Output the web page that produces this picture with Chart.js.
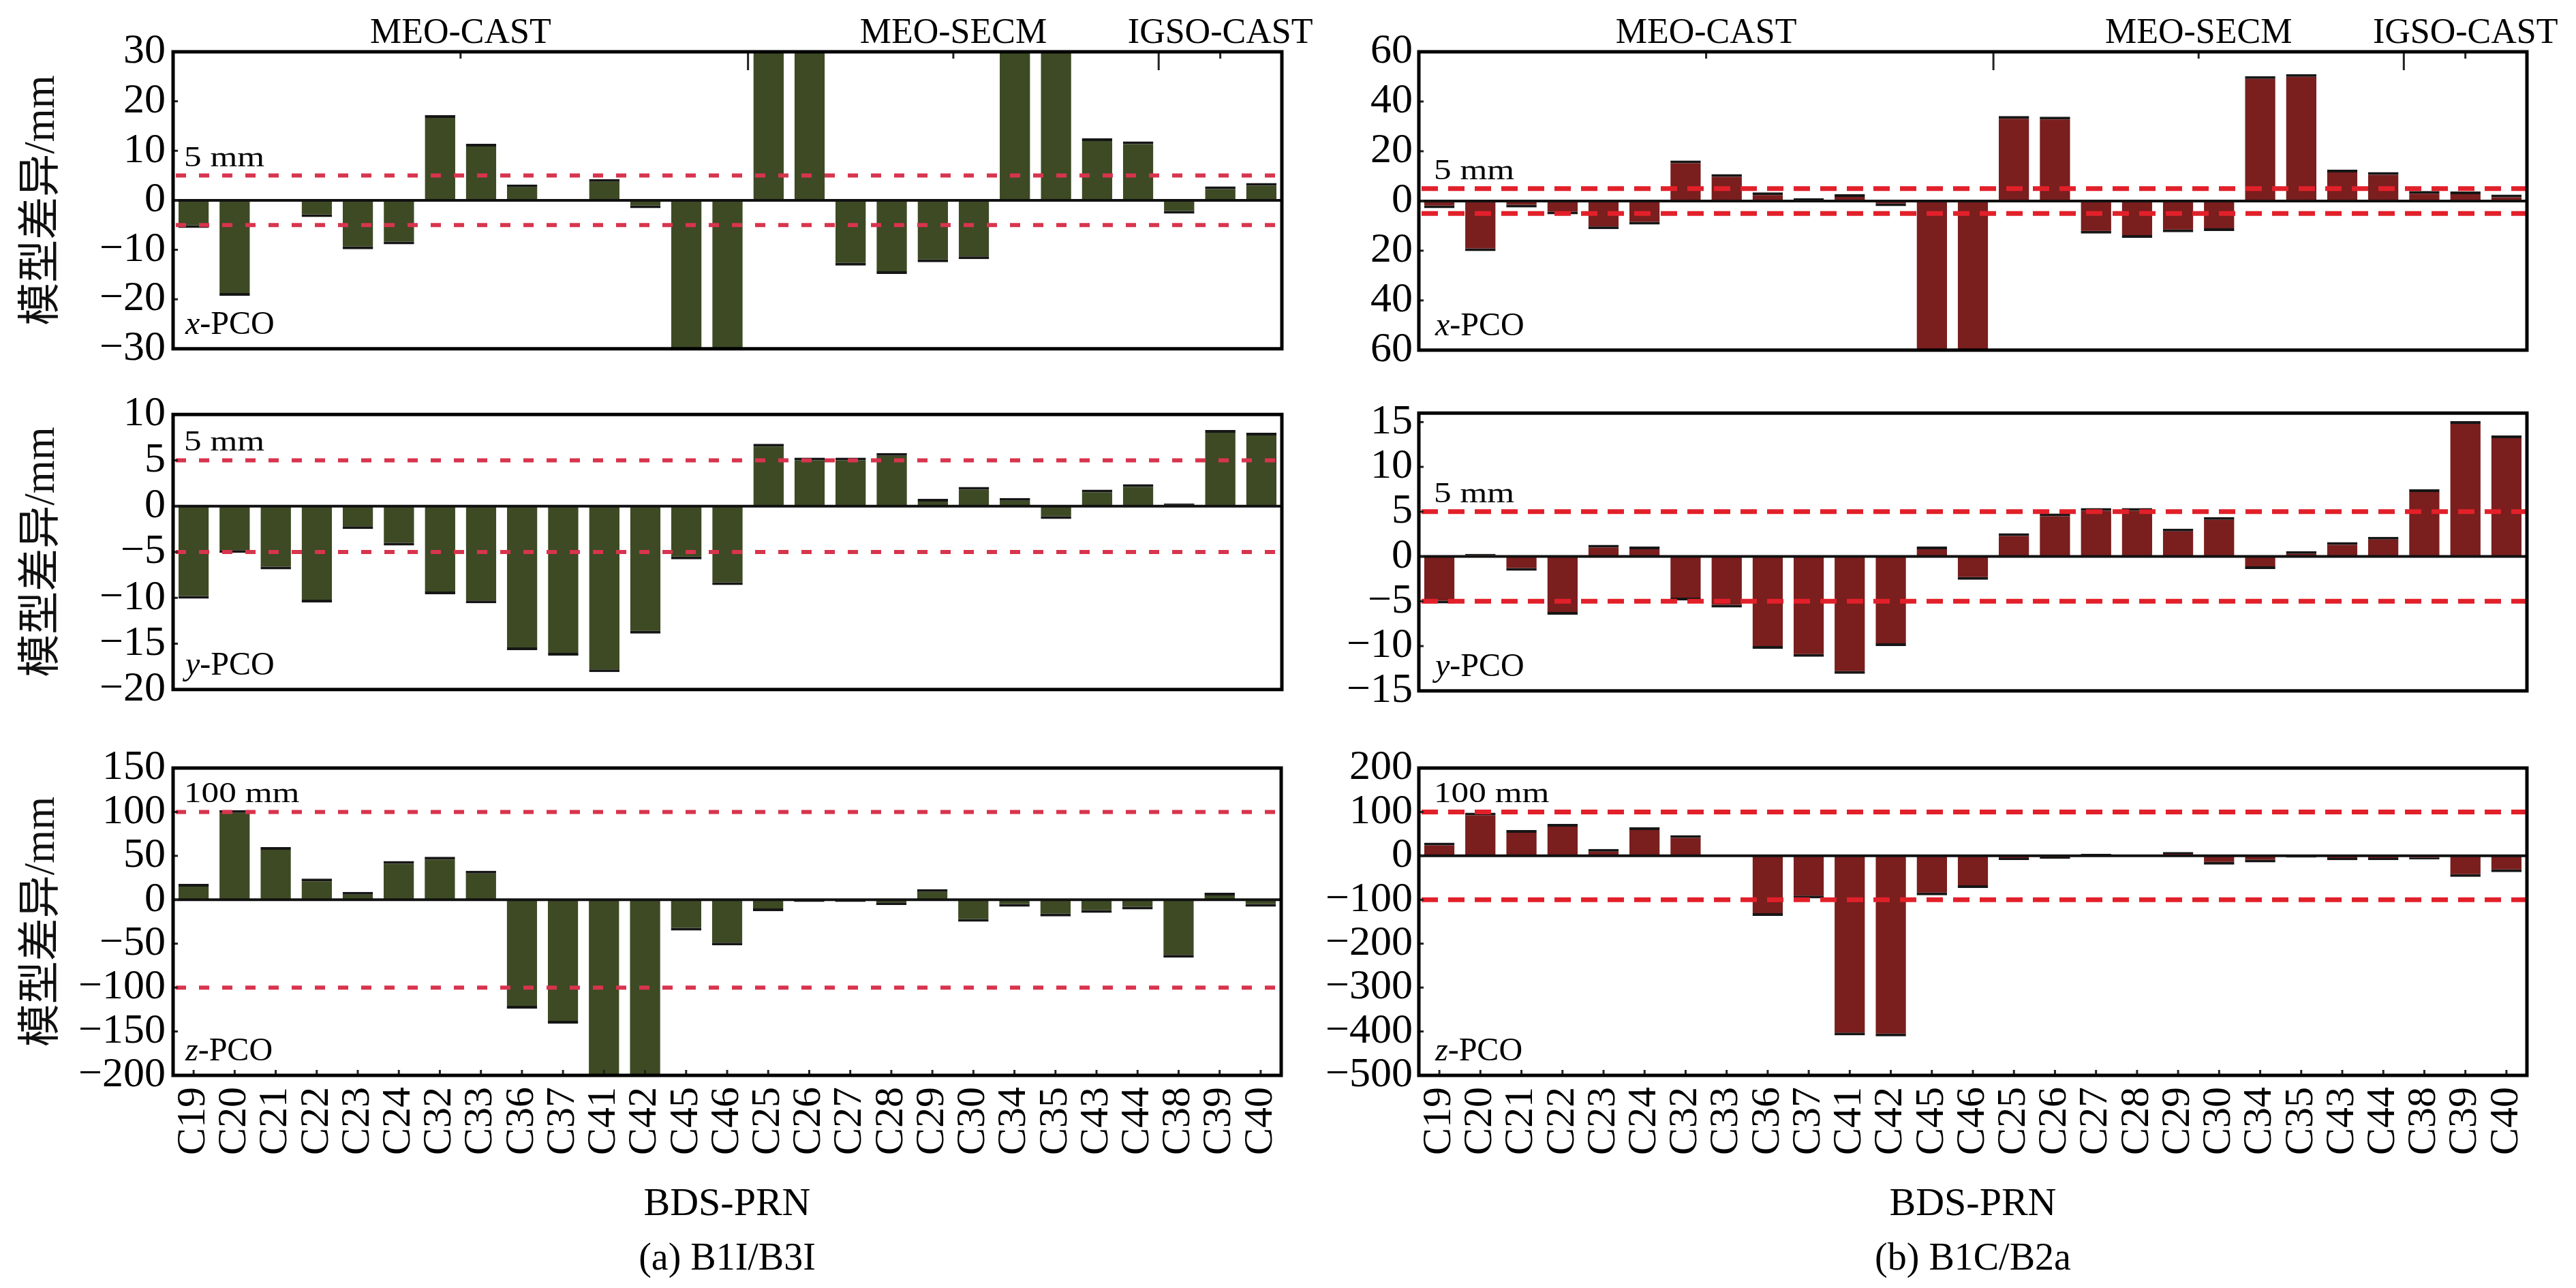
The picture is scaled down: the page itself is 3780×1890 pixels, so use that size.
<!DOCTYPE html>
<html>
<head>
<meta charset="utf-8">
<title>BDS PCO model differences</title>
<script src="https://cdn.jsdelivr.net/npm/chart.js@4.4.1/dist/chart.umd.min.js"></script>
<style>
  html, body { margin: 0; padding: 0; background: #fff; }
  #page { position: relative; width: 3780px; height: 1890px; background: #fff; overflow: hidden; }
  canvas { position: absolute; }
</style>
</head>
<body>
<div id="page">
  <canvas id="a-x" width="1940" height="560" style="left:0;top:0"></canvas>
  <canvas id="a-y" width="1940" height="500" style="left:0;top:560px"></canvas>
  <canvas id="a-z" width="1940" height="830" style="left:0;top:1060px"></canvas>
  <canvas id="b-x" width="1840" height="560" style="left:1940px;top:0"></canvas>
  <canvas id="b-y" width="1840" height="500" style="left:1940px;top:560px"></canvas>
  <canvas id="b-z" width="1840" height="830" style="left:1940px;top:1060px"></canvas>
</div>
<script>
/* PCO model differences per BDS-3 satellite, B1I/B3I vs B1C/B2a (mm) */

const PRN = ["C19", "C20", "C21", "C22", "C23", "C24", "C32", "C33", "C36", "C37", "C41", "C42", "C45", "C46",
  "C25", "C26", "C27", "C28", "C29", "C30", "C34", "C35", "C43", "C44", "C38", "C39", "C40"];

const GROUP_NAMES = ["MEO-CAST", "MEO-SECM", "IGSO-CAST"];
const GROUP_FIRST = ["C19", "C25", "C38"];
const GROUP_LAST = ["C46", "C44", "C40"];

// (a) B1I/B3I — bars beyond the axis range are clipped in the figure
const B1I_X = [-5.6, -19.3, -0.3, -3.4, -9.9, -8.9, 17.2, 11.4, 3.2, 0.1, 4.3, -1.6, -45, -45,
  40, 40, -13.2, -14.9, -12.5, -11.9, 45, 45, 12.5, 11.9, -2.7, 2.8, 3.5];
const B1I_Y = [-10.1, -5.1, -6.9, -10.5, -2.5, -4.3, -9.6, -10.6, -15.7, -16.3, -18.1, -13.9, -5.8, -8.6,
  6.8, 5.3, 5.3, 5.8, 0.8, 2.1, 0.9, -1.4, 1.8, 2.4, 0.3, 8.3, 8.0];
const B1I_Z = [18, 102, 60, 24, 9, 44, 49, 33, -124, -141, -260, -260, -35, -52,
  -13, -2.5, -2.5, -6, 12, -25, -8, -19, -15, -11, -66, 8, -8];

// (b) B1C/B2a
const B1C_X = [-2.9, -20.2, -2.6, -5.4, -11.3, -9.5, 16.3, 10.8, 3.5, 1.1, 2.7, -2.1, -75, -75,
  34.2, 33.9, -13.1, -14.8, -12.6, -12.1, 50.2, 51, 12.6, 11.6, 4.0, 3.8, 2.6];
const B1C_Y = [-5.25, 0.3, -1.6, -6.5, 1.3, 1.1, -4.9, -5.7, -10.3, -11.2, -13.1, -10.0, 1.1, -2.6,
  2.6, 4.8, 5.4, 5.4, 3.1, 4.4, -1.4, 0.6, 1.6, 2.2, 7.5, 15.1, 13.5];
const B1C_Z = [30, 98.5, 58.7, 72.8, 15.5, 65, 47, -1, -137, -97, -409, -411, -90, -73,
  -9.5, -7, 4.7, -1, 8.8, -20, -15, -4, -10, -9.5, -8, -48, -37];

const TICKS_A_X = [-30, -20, -10, 0, 10, 20, 30];
const TICKS_A_Y = [-20, -15, -10, -5, 0, 5, 10];
const TICKS_A_Z = [-200, -150, -100, -50, 0, 50, 100, 150];
const TICKS_B_X = [-60, -40, -20, 0, 20, 40, 60];
const TICKS_B_Y = [-15, -10, -5, 0, 5, 10, 15];
const TICKS_B_Z = [-500, -400, -300, -200, -100, 0, 100, 200];

const SERIF = '"Liberation Serif", "Times New Roman", serif';
const Y_TITLE = "模型差异/mm";

const minusFmt = (v) => (v < 0 ? "\u2212" + Math.abs(v) : String(v));
const absFmt = (v) => String(Math.abs(v));

// bar outline only on the far end of each bar
const endBorder = (c) => ((c.raw ?? 0) >= 0 ? { top: 4, right: 0, bottom: 0, left: 0 } : { top: 0, right: 0, bottom: 4, left: 0 });

const panelDecor = {
  id: "panelDecor",
  afterDatasetsDraw(chart, args, o) {
    const { ctx, chartArea: a, scales: { x, y } } = chart;
    const hline = (py, x0, x1) => { ctx.beginPath(); ctx.moveTo(x0, py); ctx.lineTo(x1, py); ctx.stroke(); };
    ctx.save();

    // zero line
    ctx.strokeStyle = "#111";
    ctx.lineWidth = 4;
    hline(y.getPixelForValue(0), a.left, a.right);

    // threshold lines
    ctx.strokeStyle = o.refColor;
    ctx.lineWidth = o.refWidth;
    ctx.setLineDash(o.dash);
    [o.ref, -o.ref].forEach((v) => hline(y.getPixelForValue(v), a.left + 4, a.right));
    ctx.setLineDash([]);

    // threshold label, drawn a bit wide like the source
    ctx.fillStyle = "#000";
    ctx.textBaseline = "alphabetic";
    ctx.textAlign = "left";
    ctx.font = `42px ${SERIF}`;
    ctx.save();
    ctx.translate(a.left + o.labelInset, y.getPixelForValue(o.ref) - 14);
    ctx.scale(1.22, 1);
    ctx.fillText(`${o.ref} mm`, 0, 0);
    ctx.restore();

    // component label
    const cx = a.left + o.labelInset + 2, cy = a.bottom - 22;
    ctx.font = `italic 48px ${SERIF}`;
    ctx.fillText(o.comp, cx, cy);
    const w = ctx.measureText(o.comp).width;
    ctx.font = `48px ${SERIF}`;
    ctx.fillText("-PCO", cx + w, cy);

    // inner tick marks on y axis
    ctx.strokeStyle = "#222";
    ctx.lineWidth = 3;
    y.ticks.forEach((t) => {
      if (t.value === y.min || t.value === y.max) return;
      hline(y.getPixelForValue(t.value), a.left, a.left + 7);
    });
    if (o.xTicks) {
      PRN.forEach((p, i) => {
        const px = x.getPixelForValue(i);
        ctx.beginPath(); ctx.moveTo(px, a.bottom); ctx.lineTo(px, a.bottom - 8); ctx.stroke();
      });
    }

    // satellite groups above the top panel
    if (o.groups) {
      ctx.font = `52px ${SERIF}`;
      ctx.textAlign = "center";
      GROUP_NAMES.forEach((name, g) => {
        const i0 = PRN.indexOf(GROUP_FIRST[g]), i1 = PRN.indexOf(GROUP_LAST[g]);
        const mid = (x.getPixelForValue(i0) + x.getPixelForValue(i1)) / 2;
        ctx.fillText(name, mid, a.top - 13);
        ctx.beginPath(); ctx.moveTo(mid, a.top); ctx.lineTo(mid, a.top + 10); ctx.stroke();
        if (g > 0) {
          const bx = (x.getPixelForValue(i0 - 1) + x.getPixelForValue(i0)) / 2;
          ctx.beginPath(); ctx.moveTo(bx, a.top); ctx.lineTo(bx, a.top + 27); ctx.stroke();
        }
      });
    }

    // frame
    ctx.strokeStyle = "#000";
    ctx.lineWidth = 5;
    ctx.strokeRect(a.left, a.top, a.right - a.left, a.bottom - a.top);
    ctx.restore();
  },
};

function makePanel(id, p) {
  return new Chart(document.getElementById(id), {
    type: "bar",
    data: {
      labels: PRN,
      datasets: [{
        data: p.values,
        backgroundColor: p.color,
        borderColor: "#161616",
        borderWidth: endBorder,
        borderSkipped: "start",
        barPercentage: 0.74,
        categoryPercentage: 1,
      }],
    },
    options: {
      responsive: false,
      animation: false,
      devicePixelRatio: 1,
      layout: { padding: p.padding },
      plugins: {
        legend: { display: false },
        tooltip: { enabled: false },
        title: p.caption
          ? { display: true, text: p.caption, position: "bottom", fullSize: false, color: "#000",
              font: { family: SERIF, size: 56, weight: "normal" }, padding: { top: 0, bottom: 8 } }
          : { display: false },
        panelDecor: {
          ref: p.ref, comp: p.comp, refColor: p.refColor, refWidth: p.refWidth, dash: p.dash,
          labelInset: p.labelInset, groups: !!p.groups, xTicks: !!p.caption,
        },
      },
      scales: {
        x: {
          display: !!p.caption,
          offset: true,
          grid: { display: false, drawTicks: false },
          border: { display: false },
          ticks: { autoSkip: false, minRotation: 90, maxRotation: 90, padding: 17, color: "#000",
            font: { family: SERIF, size: 60 } },
          title: { display: !!p.caption, text: "BDS-PRN", color: "#000",
            font: { family: SERIF, size: 58 }, padding: { top: 0, bottom: 12 } },
          afterFit: (s) => { if (p.caption) s.height = 236.8; },
        },
        y: {
          min: p.min,
          max: p.max,
          afterBuildTicks: (s) => { s.ticks = p.ticks.map((v) => ({ value: v })); },
          afterFit: (s) => { s.width = p.axisWidth; },
          grid: { display: false, drawTicks: false },
          border: { display: false },
          ticks: { autoSkip: false, color: "#000", padding: p.tickPad, font: { family: SERIF, size: 62 }, callback: p.fmt },
          title: p.yTitle
            ? { display: true, text: Y_TITLE, color: "#111", font: { family: SERIF + ', "Noto Sans CJK SC"', size: 63 },
                padding: { top: 25, bottom: 0 } }
            : { display: false },
        },
      },
    },
    plugins: [panelDecor],
  });
}

const LEFT = { color: "#3d4a24", refColor: "#d8344e", refWidth: 6, dash: [15, 19], axisWidth: 254, tickPad: 11, labelInset: 16, yTitle: true };
const RIGHT = { color: "#7a1e1e", refColor: "#e2202a", refWidth: 7, dash: [24, 15], axisWidth: 142, tickPad: 9, labelInset: 22, yTitle: false };
const PAD_L = { left: 0, right: 59 };
const PAD_R = { left: 0, right: 72 };

makePanel("a-x", { ...LEFT, values: B1I_X, min: -30, max: 30, ticks: TICKS_A_X, fmt: minusFmt, ref: 5, comp: "x", groups: true, padding: { ...PAD_L, top: 76, bottom: 31 } });
makePanel("a-y", { ...LEFT, values: B1I_Y, min: -20, max: 10, ticks: TICKS_A_Y, fmt: minusFmt, ref: 5, comp: "y", padding: { ...PAD_L, top: 38, bottom: 29 } });
makePanel("a-z", { ...LEFT, values: B1I_Z, min: -200, max: 150, ticks: TICKS_A_Z, fmt: minusFmt, ref: 100, comp: "z", caption: "(a) B1I/B3I", padding: { ...PAD_L, top: 67, bottom: 0 } });

makePanel("b-x", { ...RIGHT, values: B1C_X, min: -60, max: 60, ticks: TICKS_B_X, fmt: absFmt, ref: 5, comp: "x", groups: true, padding: { ...PAD_R, top: 76, bottom: 31 } });
makePanel("b-y", { ...RIGHT, values: B1C_Y, min: -15, max: 16, ticks: TICKS_B_Y, fmt: minusFmt, ref: 5, comp: "y", padding: { ...PAD_R, top: 38, bottom: 29 } });
makePanel("b-z", { ...RIGHT, values: B1C_Z, min: -500, max: 200, ticks: TICKS_B_Z, fmt: minusFmt, ref: 100, comp: "z", caption: "(b) B1C/B2a", padding: { ...PAD_R, top: 67, bottom: 0 } });
</script>
</body>
</html>
